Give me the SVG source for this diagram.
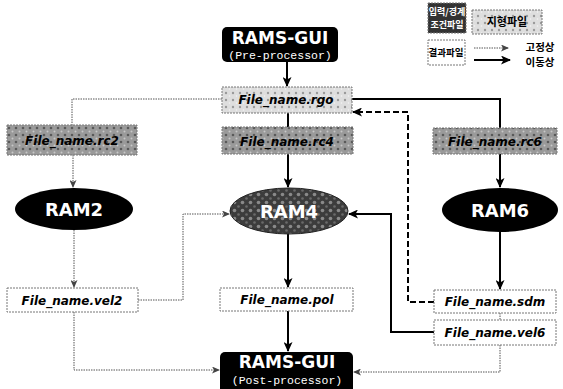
<svg xmlns="http://www.w3.org/2000/svg" width="563" height="389" viewBox="0 0 563 389">
<style>
.bg{fill:#fff}
.gui{fill:#000}
.gt{font-family:"DejaVu Sans",sans-serif;font-weight:bold;font-size:17px;fill:#fff;text-anchor:middle}
.gs{font-family:"Liberation Mono",monospace;font-size:11.5px;fill:#fff;text-anchor:middle}
.fb{stroke:#777;stroke-width:1;stroke-dasharray:2,1}
.ft{font-family:"DejaVu Sans",sans-serif;font-weight:bold;font-style:italic;font-size:12px;fill:#000;text-anchor:middle}
.rt{font-family:"DejaVu Sans",sans-serif;font-weight:bold;font-size:18px;fill:#fff;text-anchor:middle}
.kr{font-family:"Noto Sans CJK KR",sans-serif;font-weight:bold;text-anchor:middle}
.thick{fill:none;stroke:#000;stroke-width:2}
.thin{fill:none;stroke:#555;stroke-width:1;stroke-dasharray:1.5,1}
.dash{fill:none;stroke:#000;stroke-width:2;stroke-dasharray:6,3}
</style>
<defs>
<pattern id="pDark" width="7" height="7" patternUnits="userSpaceOnUse">
<rect width="7" height="7" fill="#9a9a9a"/>
<circle cx="2" cy="2" r="1.3" fill="#5a5a5a"/>
<circle cx="5.5" cy="5.5" r="1" fill="#c8c8c8"/>
</pattern>
<pattern id="pLight" width="7" height="7" patternUnits="userSpaceOnUse">
<rect width="7" height="7" fill="#dedede"/>
<circle cx="2" cy="2" r="1.2" fill="#9a9a9a"/>
<circle cx="5.5" cy="5" r="0.8" fill="#f4f4f4"/>
</pattern>
<pattern id="pRam4" width="8" height="8" patternUnits="userSpaceOnUse">
<rect width="8" height="8" fill="#3c3c3c"/>
<circle cx="2.5" cy="2.5" r="1.8" fill="#8a8a8a"/>
<circle cx="6.5" cy="6.5" r="1.3" fill="#6a6a6a"/>
</pattern>
<marker id="aK" markerWidth="10" markerHeight="9" refX="9" refY="4.5" orient="auto" markerUnits="userSpaceOnUse">
<path d="M0,0 L10,4.5 L0,9 L2.5,4.5 z" fill="#000"/>
</marker>
<marker id="aT" markerWidth="8" markerHeight="7" refX="7" refY="3.5" orient="auto" markerUnits="userSpaceOnUse">
<path d="M0,0 L8,3.5 L0,7 L2,3.5 z" fill="#444"/>
</marker>
</defs>
<rect class="bg" width="563" height="389"/>

<g id="connectors">
<path class="thick" d="M287,62 V86" marker-end="url(#aK)"/>
<path class="thin" d="M222,99 H72 V125"/>
<path class="thick" d="M288,113 V127"/>
<path class="thick" d="M352,99 H500 V128"/>
<path class="thin" d="M73,155 V187" marker-end="url(#aT)"/>
<path class="thick" d="M288,154 V187" marker-end="url(#aK)"/>
<path class="thick" d="M500,154 V187" marker-end="url(#aK)"/>
<path class="thin" d="M74,230 V287" marker-end="url(#aT)"/>
<path class="thick" d="M288,234 V287" marker-end="url(#aK)"/>
<path class="thick" d="M500,232 V289" marker-end="url(#aK)"/>
<path class="thin" d="M138,300 H183 V214 H229" marker-end="url(#aT)"/>
<path class="thin" d="M74,312 V370 H219" marker-end="url(#aT)"/>
<path class="thick" d="M288,311 V351" marker-end="url(#aK)"/>
<path class="thin" d="M500,313 V320"/>
<path class="dash" d="M434,302 H408 V112 H353" marker-end="url(#aK)"/>
<path class="thick" d="M434,332 H391 V214 H349" marker-end="url(#aK)"/>
<path class="thin" d="M500,345 V372 H354" marker-end="url(#aT)"/>
<path class="thin" d="M474,48 H508" marker-end="url(#aT)"/>
<path class="thick" d="M474,60 H510" marker-end="url(#aK)"/>
</g>

<g id="gui-pre">
<rect class="gui" x="222" y="27" width="116" height="35" rx="5"/>
<text class="gt" x="280" y="44">RAMS-GUI</text>
<text class="gs" x="280" y="59">(Pre-processor)</text>
</g>
<g id="rgo">
<rect class="fb" x="222" y="87" width="130" height="26" fill="url(#pLight)"/>
<text class="ft" x="286" y="104">File_name.rgo</text>
</g>
<g id="rc2">
<rect class="fb" x="7" y="125" width="130" height="30" fill="url(#pDark)"/>
<text class="ft" x="72" y="145">File_name.rc2</text>
</g>
<g id="rc4">
<rect class="fb" x="222" y="127" width="131" height="27" fill="url(#pDark)"/>
<text class="ft" x="287" y="146">File_name.rc4</text>
</g>
<g id="rc6">
<rect class="fb" x="433" y="128" width="124" height="26" fill="url(#pDark)"/>
<text class="ft" x="495" y="146">File_name.rc6</text>
</g>
<g id="ram2">
<ellipse cx="74" cy="209" rx="59" ry="21" fill="#000"/>
<text class="rt" x="74" y="216">RAM2</text>
</g>
<g id="ram4">
<ellipse cx="289" cy="211" rx="59" ry="23" fill="url(#pRam4)" stroke="#222" stroke-width="1"/>
<text class="rt" x="289" y="218">RAM4</text>
</g>
<g id="ram6">
<ellipse cx="500" cy="210" rx="58" ry="22" fill="#000"/>
<text class="rt" x="500" y="217">RAM6</text>
</g>
<g id="vel2">
<rect class="fb" x="7" y="288" width="131" height="24" fill="#fff"/>
<text class="ft" x="72" y="305">File_name.vel2</text>
</g>
<g id="pol">
<rect class="fb" x="220" y="288" width="133" height="23" fill="#fff"/>
<text class="ft" x="287" y="304">File_name.pol</text>
</g>
<g id="sdm">
<rect class="fb" x="434" y="290" width="122" height="23" fill="#fff"/>
<text class="ft" x="495" y="306">File_name.sdm</text>
</g>
<g id="vel6">
<rect class="fb" x="434" y="320" width="122" height="25" fill="#fff"/>
<text class="ft" x="495" y="337">File_name.vel6</text>
</g>
<g id="gui-post">
<rect class="gui" x="220" y="352" width="133" height="42" rx="5"/>
<text class="gt" x="287" y="368">RAMS-GUI</text>
<text class="gs" x="287" y="384">(Post-processor)</text>
</g>

<g id="legend">
<rect x="428" y="3" width="38" height="30" fill="#333" stroke="#777" stroke-dasharray="2,1"/>
<text class="kr" x="447" y="15" font-size="9" fill="#fff">입력/경계</text>
<text class="kr" x="447" y="28" font-size="9" fill="#fff">조건파일</text>
<rect class="fb" x="472" y="10" width="70" height="24" fill="url(#pLight)"/>
<text class="kr" x="507" y="26" font-size="11" fill="#000">지형파일</text>
<rect class="fb" x="428" y="40" width="37" height="25" fill="#fff"/>
<text class="kr" x="446" y="56" font-size="9.5" fill="#000">결과파일</text>
<text class="kr" x="540" y="51" font-size="10.5" fill="#000">고정상</text>
<text class="kr" x="540" y="66" font-size="10.5" fill="#000">이동상</text>
</g>
</svg>
